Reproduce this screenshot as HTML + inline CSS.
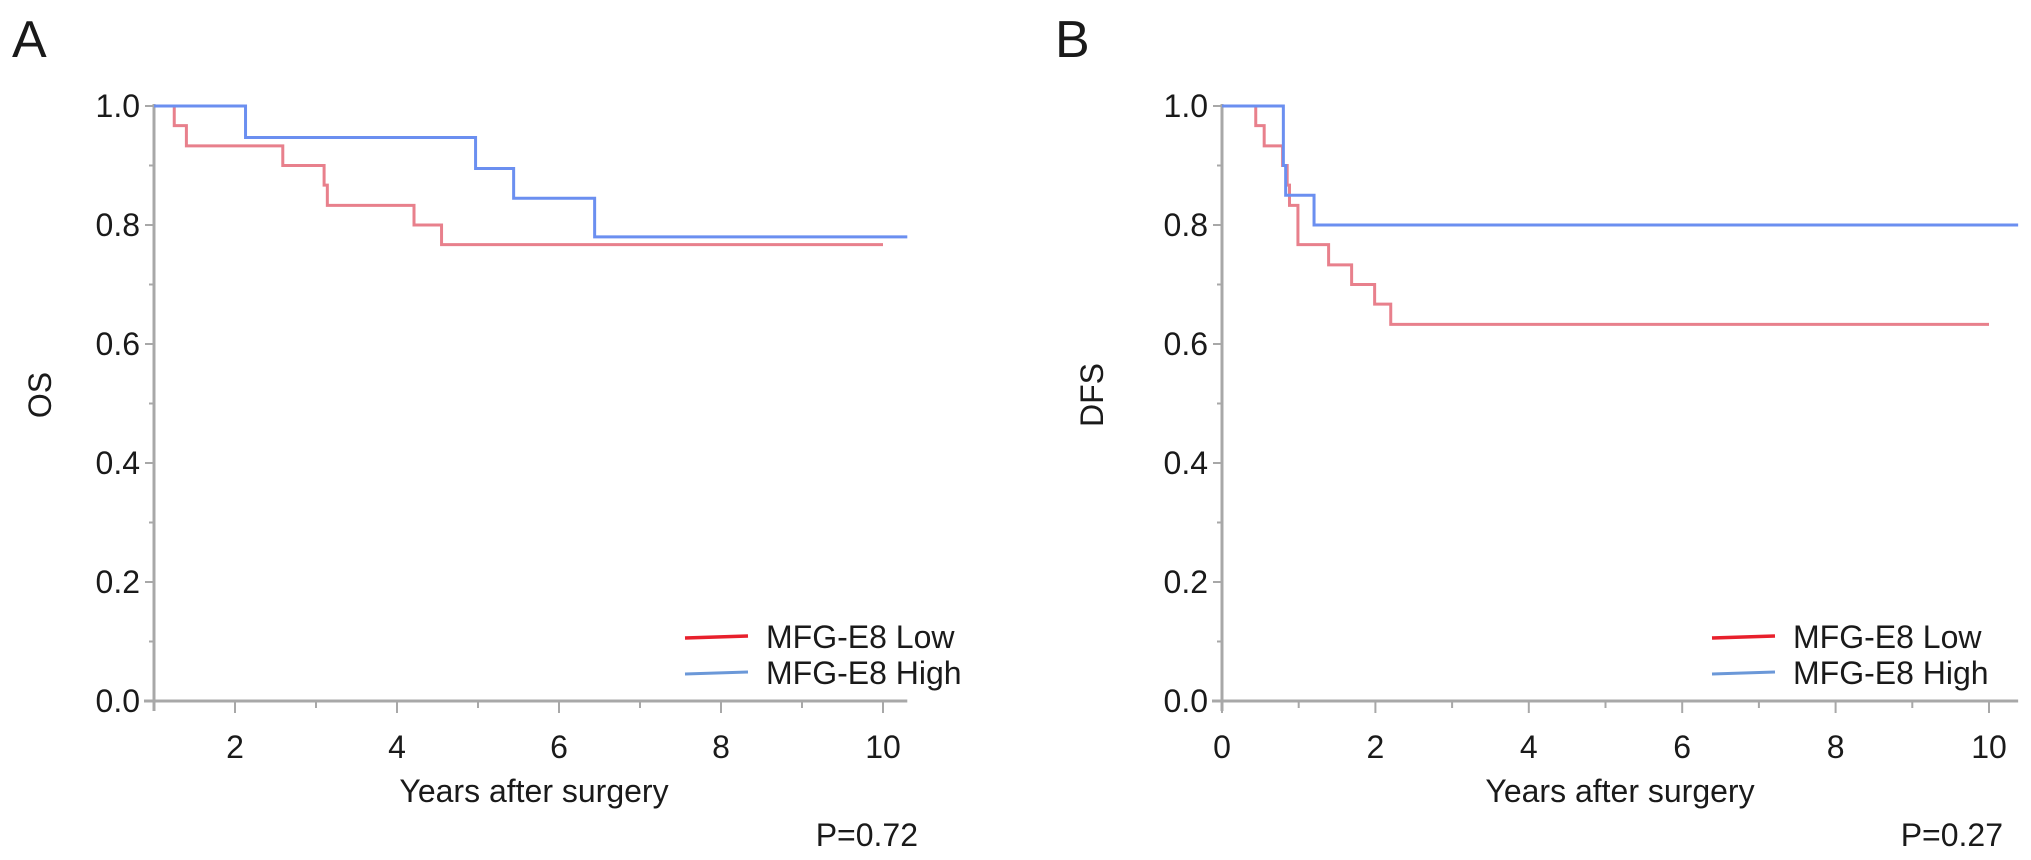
<!DOCTYPE html>
<html><head><meta charset="utf-8"><style>
html,body{margin:0;padding:0;background:#fff;}
svg{display:block;}
text{font-family:"Liberation Sans",Arial,sans-serif;fill:#1a1a1a;}
</style></head><body>
<svg id="chart" width="2031" height="860" viewBox="0 0 2031 860" xmlns="http://www.w3.org/2000/svg"></svg>
<script>
// Panel A (OS) data
const osLowTimes  = [1.0, 1.25, 1.40, 2.59, 3.10, 3.14, 4.21, 4.55, 10.0];
const osLowSurv   = [1.0, 0.967, 0.933, 0.900, 0.867, 0.833, 0.800, 0.767, 0.767];
const osHighTimes = [1.0, 2.13, 4.97, 5.44, 6.44, 10.3];
const osHighSurv  = [1.0, 0.947, 0.895, 0.845, 0.780, 0.780];
// Panel B (DFS) data
const dfsLowTimes  = [0, 0.44, 0.55, 0.79, 0.85, 0.88, 0.99, 1.39, 1.69, 1.99, 2.20, 10.0];
const dfsLowSurv   = [1.0, 0.967, 0.933, 0.900, 0.867, 0.833, 0.767, 0.733, 0.700, 0.667, 0.633, 0.633];
const dfsHighTimes = [0, 0.80, 0.83, 1.20, 10.38];
const dfsHighSurv  = [1.0, 0.900, 0.850, 0.800, 0.800];
const yTicks = [0, 0.2, 0.4, 0.6, 0.8, 1.0];
const yTickLabels = ["0.0","0.2","0.4","0.6","0.8","1.0"];
const xTicksA = [2, 4, 6, 8, 10];
const xTicksB = [0, 2, 4, 6, 8, 10];

const NS = "http://www.w3.org/2000/svg";
const svg = document.getElementById("chart");
function mk(tag, attrs, parent){
  const e = document.createElementNS(NS, tag);
  for (const k in attrs) e.setAttribute(k, attrs[k]);
  (parent||svg).appendChild(e);
  return e;
}
const Y0 = 701, Y1 = 106;
function yScale(v){ return Y0 - (Y0 - Y1) * v; }

function panel(cfg){
  const g = mk("g", {});
  
  
  const xs = t => cfg.ax + (t - cfg.t0) * cfg.ppy;
  const axisCol = "#a8a8a8";
  const ya = mk("line", {x1:cfg.ax, y1:Y1-2, x2:cfg.ax, y2:Y0+10, stroke:axisCol, "stroke-width":3}, g);
  
  
  const xa = mk("line", {x1:cfg.ax-10, y1:Y0, x2:xs(cfg.tMax), y2:Y0, stroke:axisCol, "stroke-width":3}, g);
  
  
  for (let i=0;i<=10;i++){
    const v = i/10, y = yScale(v);
    const major = i%2===0;
    mk("line", {x1:cfg.ax-(major?9:5), y1:y, x2:cfg.ax, y2:y, stroke:axisCol, "stroke-width":2}, g);
  }
  yTicks.forEach((v,i)=>{
    const t = mk("text", {x:cfg.ax-14, y:yScale(v)+11, "font-size":32, "text-anchor":"end"}, g);
    t.textContent = yTickLabels[i];
    
    
  });
  for (let t=Math.ceil(cfg.t0); t<=cfg.tMax; t++){
    const major = t%2===0;
    mk("line", {x1:xs(t), y1:Y0, x2:xs(t), y2:Y0+(major?12:7), stroke:axisCol, "stroke-width":2}, g);
  }
  cfg.xTicks.forEach(v=>{
    const t = mk("text", {x:xs(v), y:758, "font-size":32, "text-anchor":"middle"}, g);
    t.textContent = String(v);
    
    
  });
  function steps(times, surv, color, name){
    let d = "M" + xs(times[0]) + "," + yScale(surv[0]);
    for (let i=1;i<times.length;i++){
      d += " H" + xs(times[i]) + " V" + yScale(surv[i]);
    }
    const p = mk("path", {d:d, fill:"none", stroke:color, "stroke-width":3}, g);
    
    
  }
  steps(cfg.lowT, cfg.lowS, "#e8808c", "low-curve");
  steps(cfg.highT, cfg.highS, "#6b8ff0", "high-curve");
  const lg = mk("g", {}, g);
  
  
  const l1 = mk("line", {x1:cfg.legX, y1:638, x2:cfg.legX+63, y2:636, stroke:"#e8202c", "stroke-width":3.5}, lg);
  
  
  const t1 = mk("text", {x:cfg.legX+81, y:648, "font-size":32}, lg);
  t1.textContent = "MFG-E8 Low";
  
  
  const l2 = mk("line", {x1:cfg.legX, y1:674, x2:cfg.legX+63, y2:672, stroke:"#6b98d8", "stroke-width":3}, lg);
  
  
  const t2 = mk("text", {x:cfg.legX+81, y:684, "font-size":32}, lg);
  t2.textContent = "MFG-E8 High";
  
  
  const xt = mk("text", {x:cfg.xTitleX, y:802, "font-size":32, "text-anchor":"middle"}, g);
  xt.textContent = "Years after surgery";
  
  
  const yt = mk("text", {x:0, y:0, "font-size":32, "text-anchor":"middle", transform:"translate("+(cfg.yTitleX+11)+",395) rotate(-90)"}, g);
  yt.textContent = cfg.yTitle;
  
  
  const pv = mk("text", {x:cfg.pRight, y:846, "font-size":32, "text-anchor":"end"}, g);
  pv.textContent = cfg.p;
  
  
  const pl = mk("text", {x:cfg.letterX, y:57, "font-size":52}, g);
  pl.textContent = cfg.letter;
  
  
}

panel({name:"panel-a-os", ax:154, t0:1, ppy:81, tMax:10.3, xTicks:xTicksA,
  lowT:osLowTimes, lowS:osLowSurv, highT:osHighTimes, highS:osHighSurv,
  legX:685, xTitleX:534, yTitleX:40, yTitle:"OS", p:"P=0.72", pRight:918, letter:"A", letterX:12});
panel({name:"panel-b-dfs", ax:1222, t0:0, ppy:76.7, tMax:10.38, xTicks:xTicksB,
  lowT:dfsLowTimes, lowS:dfsLowSurv, highT:dfsHighTimes, highS:dfsHighSurv,
  legX:1712, xTitleX:1620, yTitleX:1092, yTitle:"DFS", p:"P=0.27", pRight:2003, letter:"B", letterX:1055});
</script>
</body></html>
